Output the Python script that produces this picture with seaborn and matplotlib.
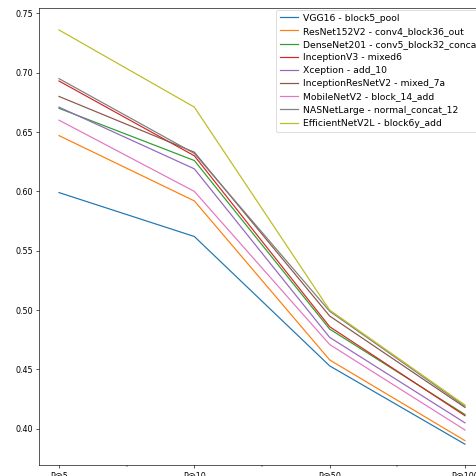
import numpy as np
import pandas as pd
import seaborn as sns
import matplotlib.pyplot as plt
from matplotlib.ticker import FixedLocator

# precision at k for the best layer of each backbone
ks = ["P@5", "P@10", "P@50", "P@100"]
models = [
    "VGG16 - block5_pool",
    "ResNet152V2 - conv4_block36_out",
    "DenseNet201 - conv5_block32_concat",
    "InceptionV3 - mixed6",
    "Xception - add_10",
    "InceptionResNetV2 - mixed_7a",
    "MobileNetV2 - block_14_add",
    "NASNetLarge - normal_concat_12",
    "EfficientNetV2L - block6y_add",
]
vgg16 = [0.599, 0.562, 0.453, 0.387]
resnet152v2 = [0.647, 0.592, 0.458, 0.390]
densenet201 = [0.670, 0.626, 0.484, 0.412]
inceptionv3 = [0.693, 0.630, 0.486, 0.411]
xception = [0.671, 0.619, 0.477, 0.405]
inceptionresnetv2 = [0.680, 0.633, 0.495, 0.418]
mobilenetv2 = [0.660, 0.600, 0.471, 0.399]
nasnetlarge = [0.695, 0.632, 0.499, 0.419]
efficientnetv2l = [0.736, 0.671, 0.500, 0.420]

scores = [vgg16, resnet152v2, densenet201, inceptionv3, xception,
          inceptionresnetv2, mobilenetv2, nasnetlarge, efficientnetv2l]

df = pd.DataFrame({
    "k": ks * len(models),
    "precision": np.concatenate(scores),
    "model": np.repeat(models, len(ks)),
})

dpi = 58
fig = plt.figure(figsize=(477 / dpi, 476 / dpi), dpi=dpi)
ax = fig.add_axes([38.7 / 477, 11 / 476, 446.6 / 477, 457 / 476])

sns.lineplot(data=df, x="k", y="precision", hue="model", hue_order=models,
             palette="tab10", sort=False, ax=ax)

ax.set_xlim(-0.15, 3.15)
ax.set_ylim(0.3695, 0.7545)
ax.xaxis.set_minor_locator(FixedLocator([0.5, 1.5, 2.5]))
ax.set_xlabel("")
ax.set_ylabel("")
sns.move_legend(ax, "upper right", title=None, fontsize=11.5,
                labelspacing=0.45, borderaxespad=0.2, handletextpad=0.5)

fig.savefig("out.png", dpi=dpi)
